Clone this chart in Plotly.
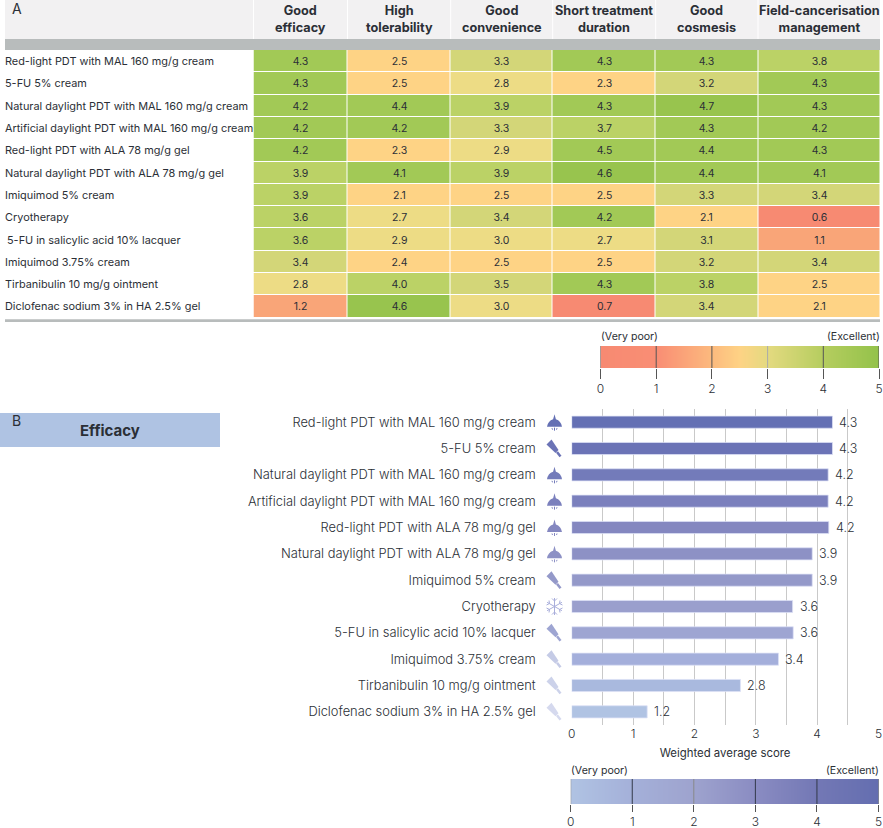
import plotly.graph_objects as go

W, H = 883, 828
FONT = "Inter"
INK = "#2b2f36"

# ---------- data ----------
treatments = [
    "Red-light PDT with MAL 160 mg/g cream",
    "5-FU 5% cream",
    "Natural daylight PDT with MAL 160 mg/g cream",
    "Artificial daylight PDT with MAL 160 mg/g cream",
    "Red-light PDT with ALA 78 mg/g gel",
    "Natural daylight PDT with ALA 78 mg/g gel",
    "Imiquimod 5% cream",
    "Cryotherapy",
    "5-FU in salicylic acid 10% lacquer",
    "Imiquimod 3.75% cream",
    "Tirbanibulin 10 mg/g ointment",
    "Diclofenac sodium 3% in HA 2.5% gel",
]
criteria = ["Good<br>efficacy", "High<br>tolerability", "Good<br>convenience",
            "Short treatment<br>duration", "Good<br>cosmesis", "Field-cancerisation<br>management"]
good_efficacy = [4.3, 4.3, 4.2, 4.2, 4.2, 3.9, 3.9, 3.6, 3.6, 3.4, 2.8, 1.2]
high_tolerability = [2.5, 2.5, 4.4, 4.2, 2.3, 4.1, 2.1, 2.7, 2.9, 2.4, 4.0, 4.6]
good_convenience = [3.3, 2.8, 3.9, 3.3, 2.9, 3.9, 2.5, 3.4, 3.0, 2.5, 3.5, 3.0]
short_duration = [4.3, 2.3, 4.3, 3.7, 4.5, 4.6, 2.5, 4.2, 2.7, 2.5, 4.3, 0.7]
good_cosmesis = [4.3, 3.2, 4.7, 4.3, 4.4, 4.4, 3.3, 2.1, 3.1, 3.2, 3.8, 3.4]
field_management = [3.8, 4.3, 4.3, 4.2, 4.3, 4.1, 3.4, 0.6, 1.1, 3.4, 2.5, 2.1]
bar_values = [4.25, 4.25, 4.18, 4.18, 4.19, 3.92, 3.92, 3.6, 3.61, 3.37, 2.75, 1.23]
bar_labels = ["4.3", "4.3", "4.2", "4.2", "4.2", "3.9", "3.9", "3.6", "3.6", "3.4", "2.8", "1.2"]
legend_scale = [0, 1, 2, 3, 4, 5]

# ---------- styles ----------
bar_colors = ["#6470b4", "#6b73b6", "#737bba", "#7b80bd", "#8487c0", "#8d91c5",
              "#9499c9", "#9a9fcd", "#9ea5d2", "#a4afdb", "#a9b9de", "#b0c3e3"]
icon_kinds = ["lamp", "tube", "lamp", "lamp", "lamp", "lamp", "tube", "flake", "tube", "tube", "tube", "tube"]
icon_colors = ["#6470b4", "#6b73b6", "#737bba", "#7b80bd", "#8487c0", "#8d91c5",
               "#9499c9", "#a9aedb", "#9ea5d2", "#c5cbe6", "#ccd2ea", "#d5d9ee"]


def stepped(stops):
    out = []
    for lo, hi, c in stops:
        out += [[lo / 5, c], [hi / 5, c]]
    return out


table_scale = stepped([
    (0, 1, "#f78a72"), (1, 2, "#f9a578"), (2, 2.6, "#fed385"), (2.6, 3.05, "#eddc85"),
    (3.05, 3.55, "#d3d678"), (3.55, 4.05, "#bbd266"), (4.05, 4.55, "#a2c956"), (4.55, 5, "#98c44e"),
])
legend_a_scale = [[0, "#f78a72"], [0.2, "#f98e74"], [0.4, "#fcba7e"], [0.5, "#fed385"],
                  [0.6, "#e4da80"], [0.8, "#b5cd5f"], [1, "#93c24a"]]
legend_b_scale = [[0, "#b0c3e3"], [0.2, "#a4b0d9"], [0.4, "#9ea3ce"], [0.6, "#8a8cc2"],
                  [0.8, "#7378b5"], [1, "#646eb0"]]


def px(x):
    return x / W


def py(y):
    return 1 - y / H


def dom_x(a, b):
    return [px(a), px(b)]


def dom_y(top, bottom):
    return [py(bottom), py(top)]


# ---------- geometry ----------
col_edges = [253.5, 347.5, 450.7, 552.7, 655.7, 758, 880]
TABLE_TOP, TABLE_BOTTOM = 50, 317.6
BAR_TOP, BAR_BOTTOM = 409, 725
BAR_LEFT, BAR_RIGHT = 571.7, 878.5
LEG_A = (600.5, 879.0)
LEG_B = (570.7, 878.5)

fig = go.Figure()

# table (A)
table_z = [list(r) for r in zip(good_efficacy, high_tolerability, good_convenience,
                                short_duration, good_cosmesis, field_management)]
fig.add_trace(go.Heatmap(
    z=table_z, x=col_edges, y=treatments, colorscale=table_scale, zmin=0, zmax=5,
    showscale=False, xgap=1, ygap=1, texttemplate="%{z:.1f}",
    textfont=dict(family=FONT, size=10.5, color=INK), hoverinfo="skip",
    xaxis="x", yaxis="y",
))
# legend A
fig.add_trace(go.Heatmap(
    z=[legend_scale, legend_scale], x=legend_scale, y=[0, 1], colorscale=legend_a_scale,
    zmin=0, zmax=5, zsmooth="best", showscale=False, hoverinfo="skip", xaxis="x2", yaxis="y2",
))
# bars (B)
fig.add_trace(go.Bar(
    x=bar_values, y=treatments, orientation="h", width=0.46,
    marker=dict(color=bar_colors, line=dict(color="rgba(220,224,245,0.75)", width=1)),
    hoverinfo="skip", xaxis="x3", yaxis="y3",
))
# legend B
fig.add_trace(go.Heatmap(
    z=[legend_scale, legend_scale], x=legend_scale, y=[0, 1], colorscale=legend_b_scale,
    zmin=0, zmax=5, zsmooth="best", showscale=False, hoverinfo="skip", xaxis="x4", yaxis="y4",
))

tickfont = dict(family=FONT, size=12, color=INK, weight=300)
legend_axis = dict(range=[0, 5], tickvals=legend_scale, ticks="outside", tickwidth=1,
                   tickcolor="#555", showgrid=False, zeroline=False, showline=False, tickfont=tickfont)
hidden_y = dict(showticklabels=False, showgrid=False, zeroline=False, ticks="", range=[0, 1], fixedrange=True)

fig.update_layout(
    width=W, height=H, margin=dict(l=0, r=0, t=0, b=0, autoexpand=False), autosize=False,
    paper_bgcolor="white", plot_bgcolor="white", showlegend=False,
    font=dict(family=FONT, color=INK),
    xaxis=dict(domain=dom_x(col_edges[0], col_edges[-1]), range=[col_edges[0], col_edges[-1]],
               visible=False, anchor="y"),
    yaxis=dict(domain=dom_y(TABLE_TOP, TABLE_BOTTOM), autorange="reversed", visible=False,
               anchor="x", type="category"),
    xaxis2=dict(domain=dom_x(*LEG_A), anchor="y2", ticklen=10, **legend_axis),
    yaxis2=dict(domain=dom_y(346, 368), anchor="x2", **hidden_y),
    xaxis3=dict(domain=dom_x(BAR_LEFT, BAR_RIGHT), range=[0, 5], anchor="y3",
                tickvals=legend_scale, ticks="", tickfont=tickfont, showline=False, zeroline=False,
                showgrid=True, gridcolor="#c9c9c9", gridwidth=1,
                minor=dict(dtick=0.5, showgrid=True, gridcolor="#c9c9c9", gridwidth=1),
                title=dict(text="Weighted average score", standoff=9,
                           font=dict(family=FONT, size=11.4, color=INK))),
    yaxis3=dict(domain=dom_y(BAR_TOP, BAR_BOTTOM), anchor="x3", autorange="reversed",
                type="category", ticks="", showgrid=False, zeroline=False, showline=False,
                ticklabelstandoff=35, tickfont=dict(family=FONT, size=12.9, color=INK, weight=300)),
    xaxis4=dict(domain=dom_x(*LEG_B), anchor="y4", ticklen=7, **legend_axis),
    yaxis4=dict(domain=dom_y(779, 804), anchor="x4", **hidden_y),
)

shapes = []
ann = []


def rect(x0, y0, x1, y1, color):
    shapes.append(dict(type="rect", xref="paper", yref="paper", x0=px(x0), x1=px(x1),
                       y0=py(y0), y1=py(y1), fillcolor=color, line_width=0, layer="below"))


def label(x, y, text, size=10.5, anchor="left", weight=None, color=INK):
    shift = {"left": -2, "right": 2, "center": 0}[anchor]
    ann.append(dict(xref="paper", yref="paper", x=px(x + shift), y=py(y), text=text, showarrow=False,
                    xanchor=anchor, yanchor="middle", align="center",
                    font=dict(family=FONT, size=size, color=color, weight=weight)))


# table header and rules
rect(5, 0, 880, 39, "#f2f1f2")
rect(5, 39, 880, 50, "#b8bcbc")
rect(5, 319.3, 880, 322, "#b8bcbc")
for edge in col_edges[:-1]:
    rect(edge - 0.5, 0, edge + 0.5, 39, "#ffffff")
for i, c in enumerate(criteria):
    label((col_edges[i] + col_edges[i + 1]) / 2, 19.5, c, size=12.7, anchor="center", weight=700)
label(12, 8, "A", size=14)
for i, t in enumerate(treatments):
    ann.append(dict(xref="paper", yref="y", x=px(3.2), y=t, text=t, showarrow=False, xanchor="left",
                    xshift=2 if i == 8 else 0,
                    font=dict(family=FONT, size=10.9, color=INK)))

# legend labels and lines
label(600.5, 336, "(Very poor)", size=10.6)
label(879.5, 336, "(Excellent)", size=10.6, anchor="right")
label(570.5, 770, "(Very poor)", size=10.6)
label(879, 770, "(Excellent)", size=10.6, anchor="right")
for v in legend_scale:
    shapes.append(dict(type="line", xref="x2", yref="y2", x0=v, x1=v, y0=0, y1=1,
                       line=dict(color="#aaaaaa" if v == 3 else "#555555", width=1)))
    shapes.append(dict(type="line", xref="x4", yref="y4", x0=v, x1=v, y0=0, y1=1,
                       line=dict(color="#888888" if v in (0, 2) else "#333a4a", width=1)))

# panel B header
rect(0, 413, 220, 447, "#afc3e3")
label(12, 420, "B", size=14)
label(110, 430, "Efficacy", size=15, anchor="center", weight=700)

# bar value labels
for t, v, s in zip(treatments, bar_values, bar_labels):
    ann.append(dict(xref="x3", yref="y3", x=v, y=t, text=s, showarrow=False, xanchor="left", xshift=5,
                    font=dict(family=FONT, size=12.5, color=INK, weight=300)))

# icons
LAMP = "M0,-8 L1.4,-3 Q6.5,-1.5 7.5,4.5 L-7.5,4.5 Q-6.5,-1.5 -1.4,-3 Z"
LAMP_DROPS = [(0, 5.5, 0, 8.5), (-2.5, 6, -2, 7.5), (2.5, 6, 2, 7.5)]
TUBE = "M-8,-4.5 L-3,-9.5 L4,1 L1,4 Z"


def local(cx, cy, path):
    out = path.replace(",", " ").replace("M", " M ").replace("L", " L ").replace("Q", " Q ").replace("Z", " Z ").split()
    res, is_x = [], True
    for tok in out:
        if tok in "MLQZ":
            res.append(tok)
            is_x = True
        else:
            val = float(tok)
            res.append(f"{px(cx + val):.5f}" if is_x else f"{py(cy + val):.5f}")
            is_x = not is_x
    return " ".join(res)


def seg(cx, cy, x0, y0, x1, y1, color, width):
    shapes.append(dict(type="line", xref="paper", yref="paper", x0=px(cx + x0), x1=px(cx + x1),
                       y0=py(cy + y0), y1=py(cy + y1), line=dict(color=color, width=width)))


row_h = (BAR_BOTTOM - BAR_TOP) / len(treatments)
for i, (kind, color) in enumerate(zip(icon_kinds, icon_colors)):
    cx, cy = 554.5, BAR_TOP + row_h * (i + 0.5)
    if kind == "lamp":
        shapes.append(dict(type="path", xref="paper", yref="paper", path=local(cx, cy, LAMP),
                           fillcolor=color, line_width=0))
        for d in LAMP_DROPS:
            seg(cx, cy, *d, color, 1)
    elif kind == "tube":
        shapes.append(dict(type="path", xref="paper", yref="paper", path=local(cx, cy + 0.5, TUBE),
                           fillcolor=color, line_width=0))
        seg(cx, cy + 0.5, 2.5, 3, 6, 7.5, color, 2.5)
    else:
        for a in [(0, -8.5, 0, 8.5), (-7.4, -4.2, 7.4, 4.2), (-7.4, 4.2, 7.4, -4.2),
                  (-2.5, -8, 0, -5.5), (2.5, -8, 0, -5.5), (-2.5, 8, 0, 5.5), (2.5, 8, 0, 5.5),
                  (-8, -1.5, -5, -3), (-5.5, -6, -5, -3), (8, -1.5, 5, -3), (5.5, -6, 5, -3),
                  (-8, 1.5, -5, 3), (-5.5, 6, -5, 3), (8, 1.5, 5, 3), (5.5, 6, 5, 3)]:
            seg(cx, cy, *a, color, 1)

fig.update_layout(shapes=shapes, annotations=ann)

fig.write_html("out.html", config=dict(displayModeBar=False),
               post_script="document.body.style.margin='0';")
